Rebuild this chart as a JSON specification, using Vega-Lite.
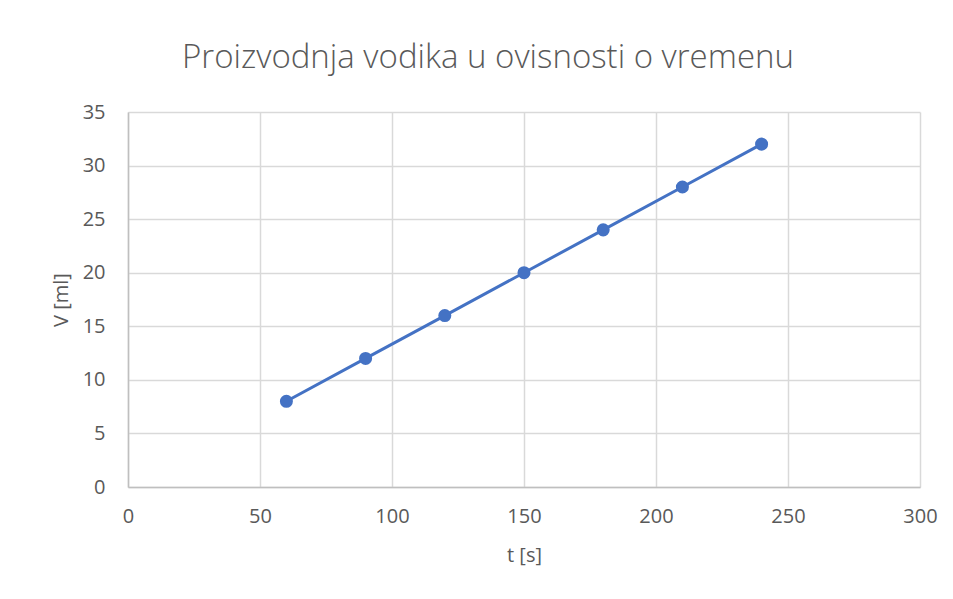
{
  "$schema": "https://vega.github.io/schema/vega-lite/v6.json",
  "width": 792,
  "height": 375,
  "autosize": {"type": "none"},
  "padding": {"left": 128, "top": 112, "right": 33, "bottom": 112},
  "background": "white",
  "title": {
    "text": "Proizvodnja vodika u ovisnosti o vremenu",
    "font": "Open Sans",
    "fontWeight": 300,
    "fontSize": 33,
    "color": "#595959",
    "anchor": "middle",
    "dx": -36,
    "offset": 27
  },
  "data": {
    "values": [
      {"t": 60, "V": 8},
      {"t": 90, "V": 12},
      {"t": 120, "V": 16},
      {"t": 150, "V": 20},
      {"t": 180, "V": 24},
      {"t": 210, "V": 28},
      {"t": 240, "V": 32}
    ]
  },
  "config": {
    "view": {"stroke": null},
    "axis": {
      "labelFont": "Open Sans",
      "labelFontSize": 20,
      "labelColor": "#595959",
      "titleFont": "Open Sans",
      "titleFontSize": 20,
      "titleFontWeight": "normal",
      "titleColor": "#595959",
      "gridColor": "#d9d9d9",
      "gridWidth": 1.5,
      "domainColor": "#bfbfbf",
      "domainWidth": 1.5,
      "ticks": false,
      "labelFlush": false
    }
  },
  "encoding": {
    "x": {
      "field": "t",
      "type": "quantitative",
      "scale": {"domain": [0, 300], "nice": false},
      "axis": {"title": "t [s]", "values": [0, 50, 100, 150, 200, 250, 300], "labelPadding": 19, "titlePadding": 19}
    },
    "y": {
      "field": "V",
      "type": "quantitative",
      "scale": {"domain": [0, 35], "nice": false},
      "axis": {"title": "V [ml]", "values": [0, 5, 10, 15, 20, 25, 30, 35], "labelPadding": 23, "titlePadding": 11}
    }
  },
  "layer": [
    {"mark": {"type": "line", "color": "#4472C4", "strokeWidth": 3}},
    {"mark": {"type": "point", "filled": true, "color": "#4472C4", "size": 170, "opacity": 1}}
  ]
}
